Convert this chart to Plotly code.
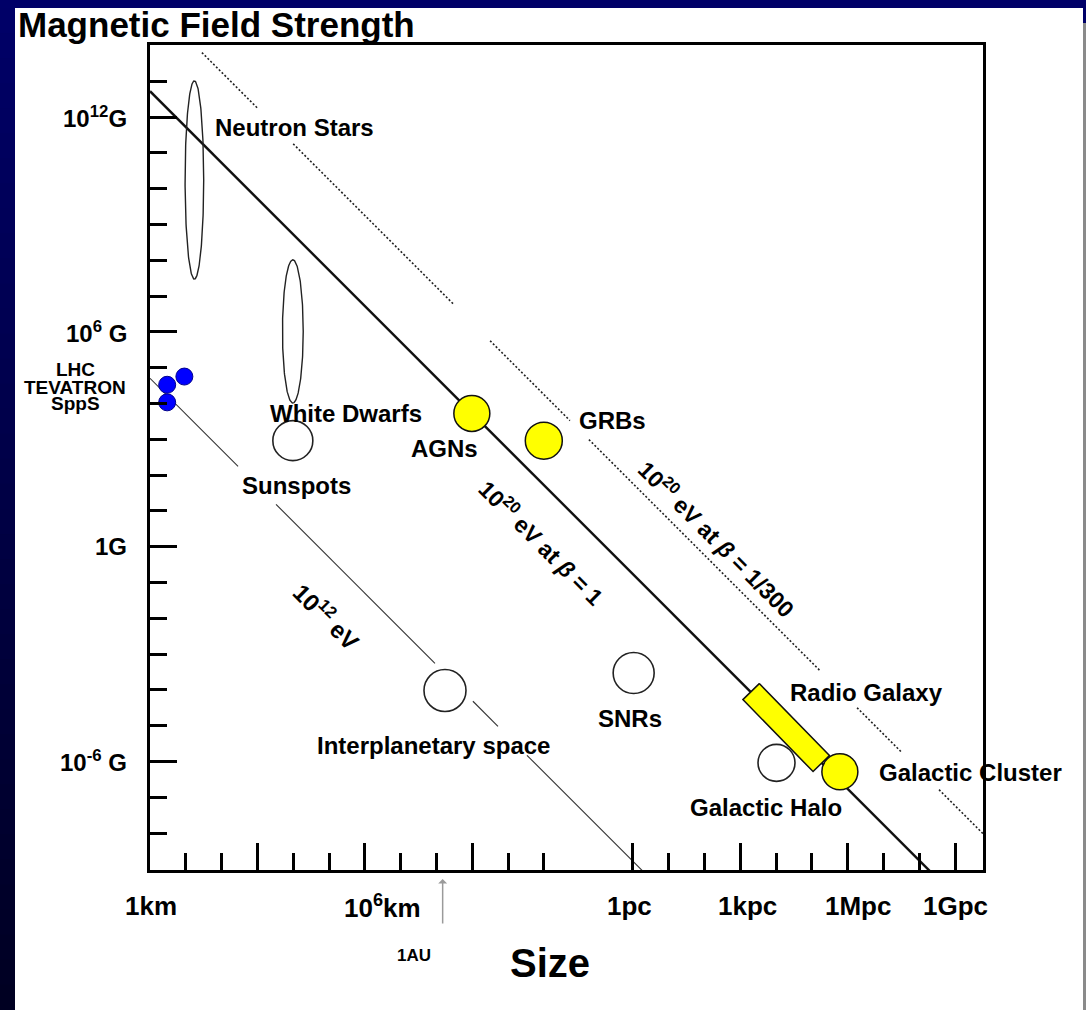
import numpy as np
import plotly.graph_objects as go

# ---------------- data: log10(size / km) and log10(B / gauss) ----------------
# Hillas reference lines:  log10 B + log10 R = const
LINE_THICK_CONST = 12.72      # 10^20 eV at beta = 1
LINE_THIN_CONST = 4.70        # 10^12 eV
LINE_DOT_CONST = 15.25        # 10^20 eV at beta = 1/300
# visible stretches (log10 km) of each line; gaps are left for labels
THICK_SEGS = [(0.0, 23.3)]
THIN_SEGS = [(0.0, 2.46), (3.52, 7.96), (9.02, 9.72), (10.53, 14.0)]
DOT_SEGS = [(1.45, 3.0), (4.0, 8.49), (9.5, 11.73), (12.26, 18.72), (19.75, 21.0), (22.04, 23.3)]

# elongated ranges (open ellipses)
ELL_NAMES = ["Neutron Stars", "White Dwarfs"]
ELL_X = [1.24, 3.99]
ELL_Y = [10.24, 6.01]
ELL_HALF_W = [0.26, 0.29]
ELL_HALF_H = [2.77, 2.00]

# open circles
OPEN_NAMES = ["Sunspots", "Interplanetary space", "SNRs", "Galactic Halo"]
OPEN_X = [3.99, 8.24, 13.51, 17.50]
OPEN_Y = [2.96, -4.02, -3.53, -6.04]

# yellow (candidate) sources
YEL_NAMES = ["AGNs", "GRBs", "Galactic Cluster"]
YEL_X = [8.99, 11.00, 19.27]
YEL_Y = [3.72, 2.96, -6.29]

# accelerators
ACC_NAMES = ["TEVATRON", "LHC", "SppS"]
ACC_X = [0.48, 0.96, 0.48]
ACC_Y = [4.52, 4.75, 4.03]

# radio galaxy band (centre-line end points and thickness in decades)
RG_X = [16.79, 18.75]
RG_Y = [-4.05, -6.06]
RG_THICK = 0.64

# units (km)
KM_PC = 3.086e13
AU_KM = 1.496e8
X_MAJOR = [0, 3, 6, 9] + [np.log10(KM_PC) + k for k in (0, 3, 6, 9)]
X_MINOR = [1, 2, 4, 5, 7, 8, 10, 11] + [np.log10(KM_PC) + k for k in (1, 2, 4, 5, 7, 8)]
X_TICK_VALUES = [0, 6, np.log10(KM_PC), np.log10(KM_PC) + 3, np.log10(KM_PC) + 6, np.log10(KM_PC) + 9]
X_TICK_LABELS = ["1km", "10<sup>6</sup>km", "1pc", "1kpc", "1Mpc", "1Gpc"]
Y_MAJOR = [12, 6, 0, -6]
Y_MINOR = [13, 11, 10, 9, 8, 7, 5, 4, 3, 2, 1, -1, -2, -3, -4, -5, -7, -8]
Y_TICK_LABELS = ["10<sup>12</sup>G", "10<sup>6</sup> G", "1G", "10<sup>-6</sup> G"]

# ---------------- layout geometry ----------------
W, H = 1086, 1010
L, R, T, B = 150, 983, 45, 870
DEC_PX = 35.8
XR = [0, (R - L) / DEC_PX]
YR = [12 - (B - 117) / DEC_PX, 12 + (117 - T) / DEC_PX]


def px(x):
    return (x - L) / (R - L)


def py(y):
    return (B - y) / (B - T)


FONT = "Liberation Sans, Arial, Helvetica, sans-serif"
fig = go.Figure()


def seg_xy(const, segs):
    xs, ys = [], []
    for a, b in segs:
        xs += [a, b, None]
        ys += [const - a, const - b, None]
    return xs, ys


x, y = seg_xy(LINE_THIN_CONST, THIN_SEGS)
fig.add_trace(go.Scatter(x=x, y=y, mode="lines", line=dict(color="#333333", width=1.1)))
x, y = seg_xy(LINE_DOT_CONST, DOT_SEGS)
fig.add_trace(go.Scatter(x=x, y=y, mode="lines", line=dict(color="#222222", width=1.6, dash="2px,2px")))
x, y = seg_xy(LINE_THICK_CONST, THICK_SEGS)
fig.add_trace(go.Scatter(x=x, y=y, mode="lines", line=dict(color="#111111", width=2.4)))

# ellipses
t = np.linspace(0, 2 * np.pi, 240)
for cx, cy, hw, hh in zip(ELL_X, ELL_Y, ELL_HALF_W, ELL_HALF_H):
    fig.add_trace(go.Scatter(x=cx + hw * np.cos(t), y=cy + hh * np.sin(t), mode="lines",
                             line=dict(color="#222222", width=1.4)))

# radio galaxy band
dx, dy = RG_X[1] - RG_X[0], RG_Y[1] - RG_Y[0]
n = np.hypot(dx, dy)
nx, ny = -dy / n * RG_THICK / 2, dx / n * RG_THICK / 2
fig.add_trace(go.Scatter(
    x=[RG_X[0] + nx, RG_X[1] + nx, RG_X[1] - nx, RG_X[0] - nx, RG_X[0] + nx],
    y=[RG_Y[0] + ny, RG_Y[1] + ny, RG_Y[1] - ny, RG_Y[0] - ny, RG_Y[0] + ny],
    mode="lines", fill="toself", fillcolor="#ffff00", line=dict(color="#111111", width=1.5)))

fig.add_trace(go.Scatter(x=OPEN_X, y=OPEN_Y, mode="markers",
                         marker=dict(size=[40, 42, 41, 37], color="white", opacity=1,
                                     line=dict(color="#222222", width=1.6))))
fig.add_trace(go.Scatter(x=YEL_X, y=YEL_Y, mode="markers",
                         marker=dict(size=[36, 37, 36], color="#ffff00", opacity=1,
                                     line=dict(color="#111111", width=1.5))))
fig.add_trace(go.Scatter(x=ACC_X, y=ACC_Y, mode="markers",
                         marker=dict(size=17, color="#0000ff", opacity=1,
                                     line=dict(color="#00008b", width=1))))

# ---------------- background panel ----------------
shapes = []
shapes.append(dict(type="rect", xref="paper", yref="paper", x0=px(15), x1=px(1083),
                   y0=py(H + 5), y1=py(8), fillcolor="white", line=dict(width=0), layer="below"))
shapes.append(dict(type="rect", xref="paper", yref="paper", x0=px(1083), x1=px(H + 200),
                   y0=py(H + 5), y1=py(23), fillcolor="#8a8a8a", line=dict(width=0), layer="below"))
nb = 40
for i in range(nb):
    y0p = 8 + (H - 8) * i / nb
    y1p = 8 + (H - 8) * (i + 1) / nb
    c = int(104 - 70 * (i + 0.5) / nb)
    shapes.append(dict(type="rect", xref="paper", yref="paper", x0=px(-5), x1=px(15),
                       y0=py(y1p + 1), y1=py(y0p), fillcolor=f"rgb(0,0,{c})",
                       line=dict(width=0), layer="below"))

ann = []


def txt(text, x, y, size, xref="x", yref="y", angle=0, xanchor="center", yanchor="middle",
        bold=True, xshift=0):
    ann.append(dict(text=f"<b>{text}</b>" if bold else text, x=x, y=y, xref=xref, yref=yref,
                    showarrow=False, textangle=angle, xanchor=xanchor, yanchor=yanchor,
                    xshift=xshift, font=dict(family=FONT, size=size, color="black")))


# object labels
txt("Neutron Stars", 4.05, 11.72, 24)
txt("White Dwarfs", 5.47, 3.71, 24)
txt("Sunspots", 4.08, 1.70, 24)
txt("AGNs", 8.24, 2.73, 24)
txt("GRBs", 12.93, 3.52, 24)
txt("SNRs", 13.41, -4.80, 24)
txt("Radio Galaxy", 20.0, -4.08, 24)
txt("Galactic Cluster", 22.91, -6.31, 24)
txt("Galactic Halo", 17.21, -7.29, 24)
txt("Interplanetary space", 7.91, -5.55, 24)
txt("10<sup>12</sup> eV", 4.94, -1.95, 24, angle=45)
txt("10<sup>20</sup> eV at <i>β</i> = 1", 10.95, 0.14, 23, angle=45)
txt("10<sup>20</sup> eV at <i>β</i> = 1/300", 15.84, 0.25, 23, angle=45)

# accelerator labels
for name, yy in zip(["LHC", "TEVATRON", "SppS"], [4.95, 4.45, 3.99]):
    txt(name, px(75), yy, 19, xref="paper")

# tick labels
for v, lab, sh in zip(X_TICK_VALUES, X_TICK_LABELS, [1, 18, -3, 7, 10, 0]):
    txt(lab, v, py(906), 26, yref="paper", xshift=sh)
for v, lab in zip(Y_MAJOR, Y_TICK_LABELS):
    txt(lab, px(129), v, 24, xref="paper", xanchor="right")

# titles
txt("Magnetic Field Strength", px(16), py(24), 35, xref="paper", yref="paper", xanchor="left")
txt("Size", px(550), py(963), 40, xref="paper", yref="paper")
txt("1AU", px(414), py(955), 17, xref="paper", yref="paper")

# 1 AU arrow
ann.append(dict(text="", x=np.log10(AU_KM), y=py(879), xref="x", yref="paper",
                showarrow=True, ax=0, ay=46, arrowhead=1, arrowsize=1, arrowwidth=1.5,
                arrowcolor="#9a9a9a", standoff=0, startstandoff=0))

axis_common = dict(showgrid=False, zeroline=False, showline=True, linecolor="black",
                   linewidth=3, mirror=True, ticks="inside", tickcolor="black",
                   tickwidth=3, ticklen=27, showticklabels=False, fixedrange=True)

fig.update_layout(
    width=W, height=H,
    margin=dict(l=L, r=W - R, t=T, b=H - B, pad=0),
    paper_bgcolor="rgb(0,0,104)", plot_bgcolor="white",
    showlegend=False,
    xaxis=dict(range=XR, tickmode="array", tickvals=X_MAJOR,
               minor=dict(tickmode="array", tickvals=X_MINOR, ticks="inside", ticklen=17,
                          tickwidth=3, tickcolor="black"), **axis_common),
    yaxis=dict(range=YR, tickmode="array", tickvals=Y_MAJOR,
               minor=dict(tickmode="array", tickvals=Y_MINOR, ticks="inside", ticklen=17,
                          tickwidth=3, tickcolor="black"), **axis_common),
    shapes=shapes, annotations=ann,
)

fig.write_html("out.html", config={"displayModeBar": False})
